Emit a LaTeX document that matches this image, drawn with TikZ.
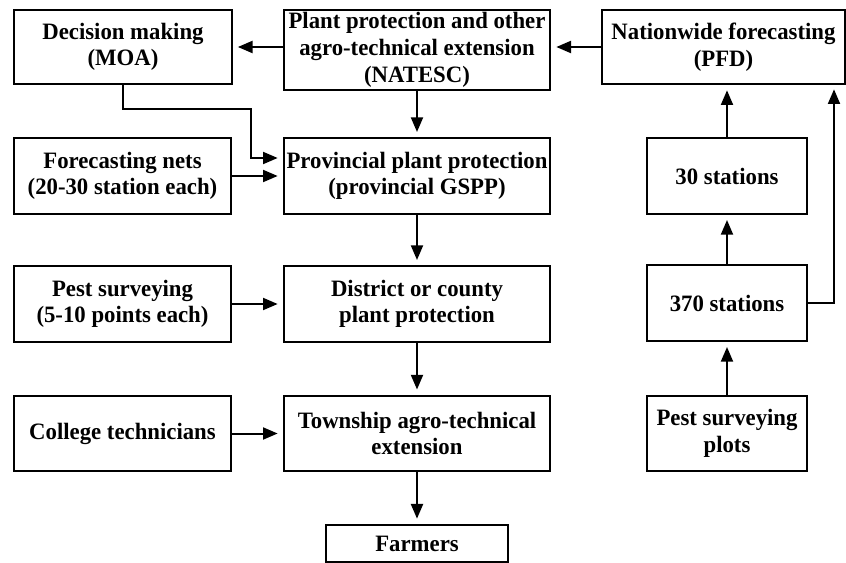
\documentclass[tikz,border=0pt]{standalone}
\usepackage{fontspec}
\setmainfont{Liberation Serif}[FakeStretch=0.97]
\usetikzlibrary{arrows.meta}

\begin{document}
\begin{tikzpicture}[x=0.75pt,y=-0.75pt,
	every node/.style={draw,rectangle,line width=1.5pt,align=center,inner xsep=0pt,inner ysep=1pt,
		font=\fontsize{17.6}{20}\selectfont\bfseries},
	lbox/.style={minimum width=162.8pt,minimum height=56.5pt},
	mbox/.style={minimum width=199.5pt,minimum height=56.5pt},
	rbox/.style={minimum width=120pt,minimum height=56.5pt},
	arr/.style={line width=1.5pt,-{Triangle[length=11pt,width=9pt]},shorten >=4pt}]
				\useasboundingbox (0,0) rectangle (846,563);
				%top row placed by hand
				\node[lbox,minimum height=55.5pt] (dec) at (123,47){Decision making\\(MOA)};
				\node[mbox,minimum height=60pt] (natesc) at (417,50){Plant protection and other\\agro-technical extension\\(NATESC)};
				\node[minimum width=182.3pt,minimum height=55.5pt] (pfd) at (723.5,47){Nationwide forecasting\\(PFD)};
				%% left column
				\node[lbox] (nets) at (122.5,176){Forecasting nets\\(20-30 station each)};
				\node[lbox] (pest) at (122.5,304){Pest surveying\\(5-10 points each)};
				\node[lbox] (coll) at (122.5,433.5){College technicians};
				%% middle column
				\node[mbox] (prov) at (417,176){Provincial plant protection\\(provincial GSPP)};
				\node[mbox] (dist) at (417,304){District or county\\plant protection};
				\node[mbox] (town) at (417,433.5){Township agro-technical\\extension};
				\node[minimum width=136.5pt,minimum height=27.8pt] (farm) at (417,543.5){Farmers};
				%% right column
				\node[rbox] (st30) at (727,176){30 stations};
				\node[rbox] (st370) at (727,303){370 stations};
				\node[rbox] (plots) at (727,433.5){Pest surveying\\plots};
				%% bend points of the elbow lines
				\coordinate (j1) at (251,109);
				\coordinate (j2) at (251,158);
				\coordinate (up) at (834,84);
				%% top row arrows
				\draw[arr] (pfd.west) -- (pfd.west -| natesc.east);
				\draw[arr] (natesc.west |- dec.east) -- (dec.east);
				\draw[arr] (dec.south) |- (j1) -- (j2) -- (j2 -| prov.west);
				%% middle chain drawn with a loop
				\foreach \a/\b in {natesc/prov,prov/dist,dist/town,town/farm}{
					\draw[arr] (\a) -- (\b);
					}
				%% side inputs
				\draw[arr] (nets) -- (prov);
				\draw[arr] (pest) -- (dist);
				\draw[arr] (coll) -- (town);
				%% stations up to PFD
				\draw[arr] (plots) -- (st370);
				\draw[arr] (st370) -- (st30);
				\draw[arr] (st30.north) -- (st30.north |- pfd.south);
				\draw[arr] (st370.east) -| (up);
\end{tikzpicture}
\end{document}
